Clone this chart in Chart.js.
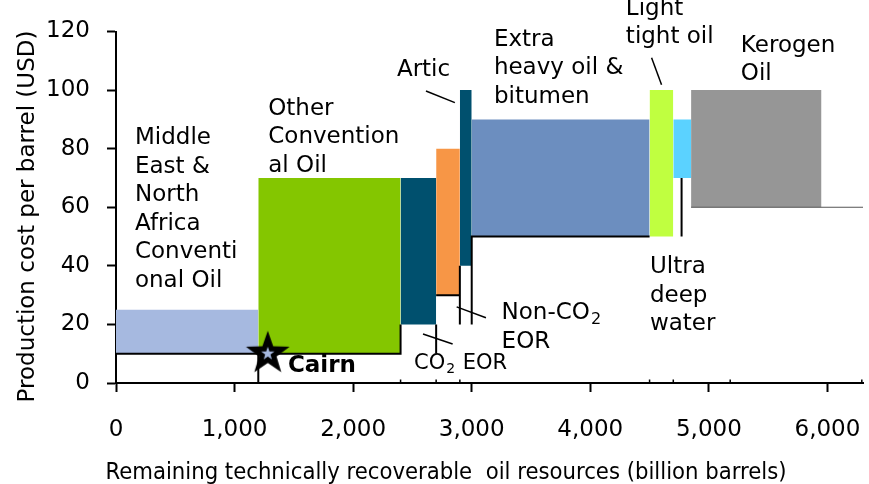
<!DOCTYPE html>
<html>
<head>
<meta charset="utf-8">
<script src="https://cdn.jsdelivr.net/npm/chart.js@4/dist/chart.umd.min.js"></script>
<style>
  html, body { margin: 0; padding: 0; background: #fff; }
  #wrap { width: 869px; height: 484px; position: relative; }
</style>
</head>
<body>
<div id="wrap"><canvas id="c" width="869" height="484"></canvas></div>
<script>
// Oil supply cost curve: each resource class is a block spanning its share of
// remaining recoverable resources (x) and its production cost range (y).
const categories = ['Middle East & North Africa Conventional Oil', 'Other Conventional Oil', 'CO2 EOR',
  'Non-CO2 EOR', 'Artic', 'Extra heavy oil & bitumen', 'Light tight oil', 'Ultra deep water', 'Kerogen Oil'];
const resourceFrom = [0, 1200, 2400, 2700, 2900, 3000, 4500, 4700, 4850];
const resourceTo   = [1200, 2400, 2700, 2900, 3000, 4500, 4700, 4850, 5950];
const costLow  = [10, 10, 20, 30, 40, 50, 50, 70, 60];
const costHigh = [25, 70, 70, 80, 100, 90, 100, 90, 100];

// cost floor traces (x, y) with null breaks
const floorTrace = [[1200, 0], [1200, 10], null, [0, 10], [2400, 10], [2400, 20], null,
  [2700, 20], [2700, 10], null, [2700, 30], [2900, 30], null, [2900, 40], [2900, 20], null,
  [3000, 20], [3000, 50], [4500, 50], null, [4770, 70], [4770, 50]];
const kerogenFloor = [[4850, 60], [6300, 60]];
const boundaryStubs = [2400, 2700, 2900, 4500, 4700, 5180, 6290];

const cairnPoint = { x: 1280, y: 10 };

const xTicks = [0, 1000, 2000, 3000, 4000, 5000, 6000];
const yTicks = [0, 20, 40, 60, 80, 100, 120];

// styling
const blockColors = ['#A6B9E0', '#84C600', '#00506E', '#F79646', '#00506E', '#6C8EBF', '#C0FF40', '#5BD2FF', '#969696'];
const FONT = "'DejaVu Sans', Verdana, sans-serif";

// text annotations, anchored in data units (first baseline), line step in px
const annotations = [
  { lines: ['Middle', 'East &', 'North', 'Africa', 'Conventi', 'onal Oil'], x: 160, y: 81.5, size: 23 },
  { lines: ['Other', 'Convention', 'al Oil'], x: 1284, y: 91.5, size: 23 },
  { lines: ['Artic'], x: 2369, y: 104.8, size: 23 },
  { lines: ['Extra', 'heavy oil &', 'bitumen'], x: 3187, y: 115.2, size: 23 },
  { lines: ['Light', 'tight oil'], x: 4300, y: 125.7, size: 23 },
  { lines: ['Kerogen', 'Oil'], x: 5270, y: 113.1, size: 23 },
  { lines: ['Ultra', 'deep', 'water'], x: 4503, y: 37.5, size: 23 },
  { lines: ['Non-CO\u2082', 'EOR'], x: 3252, y: 21.7, size: 23 },
  { lines: ['CO\u2082 EOR'], x: 2513, y: 4.7, size: 21 },
  { lines: ['Cairn'], x: 1450, y: 3.9, size: 23, bold: true }
];
const leaders = [
  [[2614, 99.7], [2858, 95.7]],
  [[4517, 111.0], [4601, 101.8]],
  [[2873, 26.0], [3120, 22.3]],
  [[2589, 16.7], [2839, 13.3]]
];

function toPoints(trace) {
  const out = [];
  let lastX = 0;
  trace.forEach(p => {
    if (p === null) out.push({ x: lastX, y: null });
    else { out.push({ x: p[0], y: p[1] }); lastX = p[0]; }
  });
  return out;
}

// star marker image for the Cairn point
function makeStar() {
  const cv = document.createElement('canvas');
  cv.width = 52; cv.height = 52;
  const g = cv.getContext('2d');
  const star = (R, r, color) => {
    g.beginPath();
    for (let i = 0; i < 10; i++) {
      const a = -Math.PI / 2 + i * Math.PI / 5;
      const rad = i % 2 ? r : R;
      const px = 26 + rad * Math.cos(a), py = 26 + rad * Math.sin(a);
      i ? g.lineTo(px, py) : g.moveTo(px, py);
    }
    g.closePath();
    g.fillStyle = color;
    g.fill();
  };
  star(23, 9.2, '#000');
  star(7, 2.8, '#A6B9E0');
  return cv;
}

const datasets = [];
datasets.push({
  type: 'scatter', label: 'Cairn', data: [cairnPoint], order: 0,
  pointStyle: makeStar(), pointRadius: 26, clip: false
});
datasets.push({
  type: 'line', label: 'floor', data: toPoints(floorTrace), order: 1,
  borderColor: '#000', borderWidth: 2, pointRadius: 0, fill: false, spanGaps: false, tension: 0
});
datasets.push({
  type: 'line', label: 'kerogen floor', data: toPoints(kerogenFloor), order: 1,
  borderColor: '#555', borderWidth: 1.2, pointRadius: 0, fill: false, tension: 0
});
const stubTrace = [];
boundaryStubs.forEach(v => { stubTrace.push([v, 0], [v, 1.2], null); });
datasets.push({
  type: 'line', label: 'stubs', data: toPoints(stubTrace), order: 1,
  borderColor: '#000', borderWidth: 1.5, pointRadius: 0, fill: false, spanGaps: false, clip: false
});
categories.forEach((name, i) => {
  datasets.push({
    type: 'line', label: name, order: 2,
    data: [{ x: resourceFrom[i], y: costHigh[i] }, { x: resourceTo[i], y: costHigh[i] }],
    fill: { value: costLow[i] },
    backgroundColor: blockColors[i],
    borderColor: 'rgba(0,0,0,0)', borderWidth: 0.01, pointRadius: 0, tension: 0
  });
});

const textPlugin = {
  id: 'textLayer',
  afterDatasetsDraw(chart) {
    const ctx = chart.ctx, xs = chart.scales.x, ys = chart.scales.y;
    ctx.save();
    ctx.fillStyle = '#000';
    ctx.textAlign = 'left';
    ctx.textBaseline = 'alphabetic';
    annotations.forEach(a => {
      const px = xs.getPixelForValue(a.x);
      let py = ys.getPixelForValue(a.y);
      const font = (a.bold ? 'bold ' : '') + a.size + 'px ' + FONT;
      const subFont = (a.bold ? 'bold ' : '') + Math.round(a.size * 0.68) + 'px ' + FONT;
      a.lines.forEach(line => {
        let cx = px;
        const parts = line.split('\u2082');
        parts.forEach((part, k) => {
          ctx.font = font;
          ctx.fillText(part, cx, py);
          cx += ctx.measureText(part).width;
          if (k < parts.length - 1) {
            ctx.font = subFont;
            ctx.fillText('2', cx + 1, py + a.size * 0.2);
            cx += ctx.measureText('2').width + 2;
          }
        });
        py += 28.5;
      });
    });
    ctx.strokeStyle = '#000';
    ctx.lineWidth = 1.5;
    leaders.forEach(l => {
      ctx.beginPath();
      ctx.moveTo(xs.getPixelForValue(l[0][0]), ys.getPixelForValue(l[0][1]));
      ctx.lineTo(xs.getPixelForValue(l[1][0]), ys.getPixelForValue(l[1][1]));
      ctx.stroke();
    });
    // axis titles
    ctx.font = "23.6px 'DejaVu Sans Condensed', 'DejaVu Sans', sans-serif";
    ctx.textAlign = 'center';
    ctx.fillText('Remaining technically recoverable  oil resources (billion barrels)', 446, 479);
    ctx.translate(28, 216.5);
    ctx.rotate(-Math.PI / 2);
    ctx.font = '23px ' + FONT;
    ctx.textBaseline = 'middle';
    ctx.fillText('Production cost per barrel (USD)', 0, 0);
    ctx.restore();
  }
};

new Chart(document.getElementById('c'), {
  data: { datasets },
  options: {
    responsive: false,
    animation: false,
    events: [],
    layout: { autoPadding: false, padding: { top: 31.5, right: 6, left: 0, bottom: 0 } },
    plugins: { legend: { display: false }, tooltip: { enabled: false }, title: { display: false } },
    scales: {
      x: {
        type: 'linear', position: 'bottom', min: 0, max: 6300,
        afterBuildTicks: s => { s.ticks = xTicks.map(v => ({ value: v })); },
        afterFit: s => { s.height = 101; s.paddingLeft = 0; s.paddingRight = 0; },
        grid: { drawOnChartArea: false, drawTicks: true, tickLength: 9, tickWidth: 2, tickColor: '#000' },
        border: { display: true, color: '#000', width: 2 },
        ticks: { font: { family: FONT, size: 23 }, color: '#000', padding: 24, maxRotation: 0,
          callback: v => v.toLocaleString('en-US') }
      },
      y: {
        type: 'linear', position: 'left', min: 0, max: 120,
        afterBuildTicks: s => { s.ticks = yTicks.map(v => ({ value: v })); },
        afterFit: s => { s.width = 116; s.paddingTop = 0; s.paddingBottom = 0; },
        grid: { drawOnChartArea: false, drawTicks: true, tickLength: 9, tickWidth: 2, tickColor: '#000' },
        border: { display: true, color: '#000', width: 2 },
        ticks: { font: { family: FONT, size: 23 }, color: '#000', padding: 17 }
      }
    }
  },
  plugins: [textPlugin]
});
</script>
</body>
</html>
